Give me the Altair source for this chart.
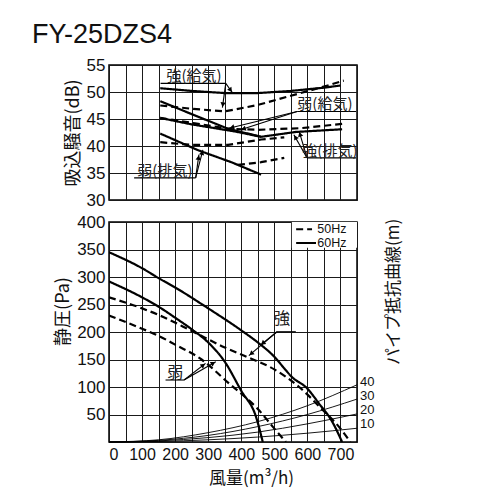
import math
import altair as alt
import pandas as pd

# ---------------- data ----------------
# upper panel: suction noise (dB) vs air volume (m3/h)
kyu_strong60_x = [155, 250, 350, 450, 550, 650, 700]
kyu_strong60_y = [50.7, 50.2, 49.8, 49.8, 50.2, 50.8, 51.2]
kyu_strong50_x = [155, 250, 350, 450, 550, 650, 710]
kyu_strong50_y = [47.5, 46.9, 46.4, 47.6, 49.3, 51.0, 52.1]
kyu_weak60_x = [155, 250, 360, 460]
kyu_weak60_y = [48.3, 45.9, 43.2, 41.7]
kyu_weak50_x = [155, 250, 360, 460, 530]
kyu_weak50_y = [40.7, 40.2, 40.2, 41.2, 41.6]
hai_strong60_x = [155, 250, 380, 460, 565, 705]
hai_strong60_y = [45.2, 44.0, 42.7, 41.7, 42.6, 43.1]
hai_strong50_x = [155, 260, 360, 450, 580, 705]
hai_strong50_y = [45.2, 44.2, 43.2, 43.0, 43.3, 44.1]
hai_weak60_x = [155, 270, 370, 460]
hai_weak60_y = [42.3, 39.2, 37.0, 34.7]
hai_weak50_x = [390, 460, 530]
hai_weak50_y = [36.5, 37.0, 37.8]

# lower panel: static pressure (Pa) vs air volume (m3/h)
strong60_x = [0, 100, 150, 200, 300, 400, 450, 500, 534, 550, 600, 635, 675, 705]
strong60_y = [345, 316, 298, 281, 243, 203, 181, 155, 131, 120, 97, 70, 37, 0]
weak60_x = [0, 100, 150, 200, 250, 300, 350, 400, 445, 465]
weak60_y = [292, 263, 246, 226, 205, 181, 146, 93, 45, 0]
strong50_x = [0, 100, 150, 250, 350, 420, 500, 575, 645, 695, 730]
strong50_y = [263, 243, 231, 202, 172, 154, 132, 100, 59, 28, 0]
weak50_x = [0, 100, 150, 200, 280, 320, 360, 400, 450, 495, 535]
weak50_y = [230, 206, 193, 177, 150, 130, 108, 88, 60, 28, 0]

# pipe resistance curves (m)
pipe_x = [0, 150, 300, 450, 600, 750]
pipe_10 = [0, 1, 4, 9, 16, 25]
pipe_20 = [0, 2, 8, 18, 33, 51]
pipe_30 = [0, 3, 12, 28, 50, 78]
pipe_40 = [0, 4, 17, 37, 66, 104]
pipe_labels = ["10", "20", "30", "40"]
pipe_label_y = [32, 58, 84, 110]

x_ticks = list(range(0, 751, 50))
top_ticks = [30, 35, 40, 45, 50, 55]
bot_ticks = list(range(0, 401, 50))

title_text = "FY-25DZS4"
top_title = "吸込騒音(dB)"
bot_title = "静圧(Pa)"
x_title = "風量(m³/h)"
pipe_title = "パイプ抵抗曲線(m)"
legend_names = ["50Hz", "60Hz"]

# annotations (label text, label x/y, underline x0/x1/y, tips)
top_notes = [
    ("強(給気)", 257, 52.9, 156, 353, 51.6, [(343, 47.1), (373, 49.9)]),
    ("弱(給気)", 653, 47.7, 569, 747, 46.4, [(363, 43.3), (398, 43.0)]),
    ("強(排気)", 668, 39.1, 599, 747, 37.8, [(559, 42.1), (575, 42.7)]),
    ("弱(排気)", 169, 35.4, 76, 262, 34.1, [(272, 38.4), (284, 39.3)]),
]
bot_notes = [
    ("強", 523, 224, 508, 565, 200.5, [(423, 157), (458, 176)]),
    ("弱", 200, 125, 171, 227, 112.7, [(292, 143), (323, 146)]),
]

# ---------------- styling constants ----------------
W = 248
H_TOP = 135
H_BOT = 220
FONT = "Liberation Sans, Arial, 'Noto Sans CJK JP', sans-serif"
CJK = "'Noto Sans CJK JP', 'Liberation Sans', sans-serif"

def to_frame(pairs):
    rows = []
    for name, hz, xs, ys in pairs:
        for a, b in zip(xs, ys):
            rows.append({"x": a, "y": b, "mode": name, "hz": hz})
    return pd.DataFrame(rows)

noise_df = to_frame([
    ("kyu_s60", "60Hz", kyu_strong60_x, kyu_strong60_y),
    ("kyu_s50", "50Hz", kyu_strong50_x, kyu_strong50_y),
    ("kyu_w60", "60Hz", kyu_weak60_x, kyu_weak60_y),
    ("kyu_w50", "50Hz", kyu_weak50_x, kyu_weak50_y),
    ("hai_s60", "60Hz", hai_strong60_x, hai_strong60_y),
    ("hai_s50", "50Hz", hai_strong50_x, hai_strong50_y),
    ("hai_w60", "60Hz", hai_weak60_x, hai_weak60_y),
    ("hai_w50", "50Hz", hai_weak50_x, hai_weak50_y),
])
pq_df = to_frame([
    ("s60", "60Hz", strong60_x, strong60_y),
    ("w60", "60Hz", weak60_x, weak60_y),
    ("s50", "50Hz", strong50_x, strong50_y),
    ("w50", "50Hz", weak50_x, weak50_y),
])
pipe_df = to_frame([
    ("10", "p", pipe_x, pipe_10),
    ("20", "p", pipe_x, pipe_20),
    ("30", "p", pipe_x, pipe_30),
    ("40", "p", pipe_x, pipe_40),
])
pipe_lab_df = pd.DataFrame({"x": [750] * 4, "y": pipe_label_y, "t": pipe_labels})

dash_scale = alt.Scale(domain=legend_names, range=[[7, 4], [1, 0]])
x_scale = alt.Scale(domain=[0, 750], nice=False, zero=False)
y_top_scale = alt.Scale(domain=[30, 55], nice=False, zero=False)
y_bot_scale = alt.Scale(domain=[0, 400], nice=False, zero=False)

ax_top_x = alt.Axis(values=x_ticks, labels=False, ticks=False, domain=False, title=None, grid=True)
ax_top_y = alt.Axis(values=top_ticks, ticks=False, domain=False, grid=True, title=top_title,
                    titleFont=CJK, titleFontSize=18, titleFontWeight="normal", titlePadding=4)
ax_bot_x = alt.Axis(values=x_ticks, ticks=False, domain=False, grid=True, title=x_title,
                    labelExpr="(datum.value % 100 == 0 && datum.value <= 700) ? datum.label : ''",
                    labelFontSize=16, labelPadding=4,
                    titleFont=CJK, titleFontSize=17, titleFontWeight="normal", titlePadding=8, titleX=142)
ax_bot_y = alt.Axis(values=bot_ticks, ticks=False, domain=False, grid=True, title=bot_title,
                    labelExpr="datum.value == 0 ? '' : datum.label",
                    titleFont=CJK, titleFontSize=18, titleFontWeight="normal", titlePadding=4, titleY=89)


def annotation_frames(notes, sy):
    sx = W / 750.0
    under, leaders, heads, labels = [], [], [], []
    for text, lx, ly, u0, u1, uy, tips in notes:
        labels.append({"x": lx, "y": ly, "t": text})
        under.append({"x": u0, "x2": u1, "y": uy, "y2": uy})
        sx0 = u0 if abs(tips[0][0] - u0) < abs(tips[0][0] - u1) else u1
        for tx, ty in tips:
            leaders.append({"x": sx0, "x2": tx, "y": uy, "y2": ty})
            dxp = (tx - sx0) * sx
            dyp = -(ty - uy) * sy
            n = math.hypot(dxp, dyp) or 1.0
            ux, uyp = dxp / n, dyp / n
            ang = math.degrees(math.atan2(dxp, -dyp)) % 360
            cx = tx - ux * 3 / sx
            cy = ty + uyp * 3 / sy
            heads.append({"x": cx, "y": cy, "ang": ang})
    return (pd.DataFrame(under), pd.DataFrame(leaders), pd.DataFrame(heads), pd.DataFrame(labels))


def panel_layers(notes, sy, xax, yax, ysc, fsize):
    under, leaders, heads, labels = annotation_frames(notes, sy)
    X = lambda: alt.X("x:Q", scale=x_scale, axis=xax)
    Y = lambda: alt.Y("y:Q", scale=ysc, axis=yax)
    segs = pd.concat([under, leaders], ignore_index=True)
    seg_layer = alt.Chart(segs).mark_rule(color="black", strokeWidth=1.1).encode(
        x=X(), x2="x2:Q", y=Y(), y2="y2:Q")
    head_layer = alt.Chart(heads).mark_point(shape="triangle-up", filled=True, color="black",
                                             size=28, opacity=1).encode(
        x=X(), y=Y(), angle=alt.Angle("ang:Q", scale=None))
    lab_layer = alt.Chart(labels).mark_text(font=CJK, fontSize=fsize, color="#222",
                                            baseline="middle", align="center").encode(
        x=X(), y=Y(), text="t:N")
    return [seg_layer, head_layer, lab_layer]


# ---------------- upper panel ----------------
noise_lines = alt.Chart(noise_df).mark_line(color="black", strokeWidth=2.2, clip=True).encode(
    x=alt.X("x:Q", scale=x_scale, axis=ax_top_x),
    y=alt.Y("y:Q", scale=y_top_scale, axis=ax_top_y),
    detail="mode:N",
    strokeDash=alt.StrokeDash("hz:N", scale=dash_scale, legend=None),
)
title_layer = alt.Chart(pd.DataFrame({"t": [title_text]})).mark_text(
    font=FONT, fontSize=27, align="left", baseline="alphabetic", color="#111").encode(
    x=alt.value(-77), y=alt.value(-22), text="t:N")

top = alt.layer(noise_lines, *panel_layers(top_notes, H_TOP / 25.0, ax_top_x, ax_top_y, y_top_scale, 15),
                title_layer).properties(width=W, height=H_TOP)

# ---------------- lower panel ----------------
legend_box = alt.Chart(pd.DataFrame({"x": [553], "x2": [750], "y": [353], "y2": [400]})).mark_rect(
    color="white").encode(x=alt.X("x:Q", scale=x_scale, axis=ax_bot_x), x2="x2:Q",
                          y=alt.Y("y:Q", scale=y_bot_scale, axis=ax_bot_y), y2="y2:Q")
legend_lines = alt.Chart(pd.DataFrame({"x": [566, 566], "x2": [614, 626], "y": [387, 362],
                                       "hz": legend_names})).mark_rule(color="black", strokeWidth=2).encode(
    x=alt.X("x:Q", scale=x_scale, axis=ax_bot_x), x2="x2:Q",
    y=alt.Y("y:Q", scale=y_bot_scale, axis=ax_bot_y),
    strokeDash=alt.StrokeDash("hz:N", scale=dash_scale, legend=None))
legend_text = alt.Chart(pd.DataFrame({"x": [630, 630], "y": [387, 362], "t": legend_names})).mark_text(
    font=FONT, fontSize=12.5, align="left", baseline="middle", color="#111").encode(
    x=alt.X("x:Q", scale=x_scale, axis=ax_bot_x), y=alt.Y("y:Q", scale=y_bot_scale, axis=ax_bot_y),
    text="t:N")

pipe_lines = alt.Chart(pipe_df).mark_line(color="black", strokeWidth=0.9, interpolate="monotone").encode(
    x=alt.X("x:Q", scale=x_scale, axis=ax_bot_x),
    y=alt.Y("y:Q", scale=y_bot_scale, axis=ax_bot_y),
    detail="mode:N")
pipe_labels_layer = alt.Chart(pipe_lab_df).mark_text(
    font=FONT, fontSize=13, align="left", baseline="middle", dx=3, color="#111").encode(
    x=alt.X("x:Q", scale=x_scale, axis=ax_bot_x), y=alt.Y("y:Q", scale=y_bot_scale, axis=ax_bot_y),
    text="t:N")
pipe_title_layer = alt.Chart(pd.DataFrame({"t": [pipe_title]})).mark_text(
    font=CJK, fontSize=17, angle=270, align="center", baseline="middle", color="#111").encode(
    x=alt.value(W + 37), y=alt.value(70), text="t:N")

pq_lines = alt.Chart(pq_df).mark_line(color="black", strokeWidth=2.2, interpolate="monotone", clip=True).encode(
    x=alt.X("x:Q", scale=x_scale, axis=ax_bot_x),
    y=alt.Y("y:Q", scale=y_bot_scale, axis=ax_bot_y),
    detail="mode:N",
    strokeDash=alt.StrokeDash("hz:N", scale=dash_scale, legend=None),
)

bottom = alt.layer(pipe_lines, pq_lines, legend_box, legend_lines, legend_text,
                   *panel_layers(bot_notes, H_BOT / 400.0, ax_bot_x, ax_bot_y, y_bot_scale, 16),
                   pipe_labels_layer, pipe_title_layer).properties(width=W, height=H_BOT)

chart = alt.vconcat(top, bottom, spacing=22, bounds="flush").properties(
    padding={"left": 23, "top": 12, "right": 5, "bottom": 5}
).configure_view(stroke="black", strokeWidth=1.5).configure_axis(
    labelFont=FONT, labelFontSize=17, labelColor="#111", gridColor="#1a1a1a", gridWidth=1,
    gridOpacity=1, labelPadding=4, titleColor="#111"
).configure_concat(spacing=22)

chart.save("out.html", embed_options={"renderer": "svg", "actions": False})
